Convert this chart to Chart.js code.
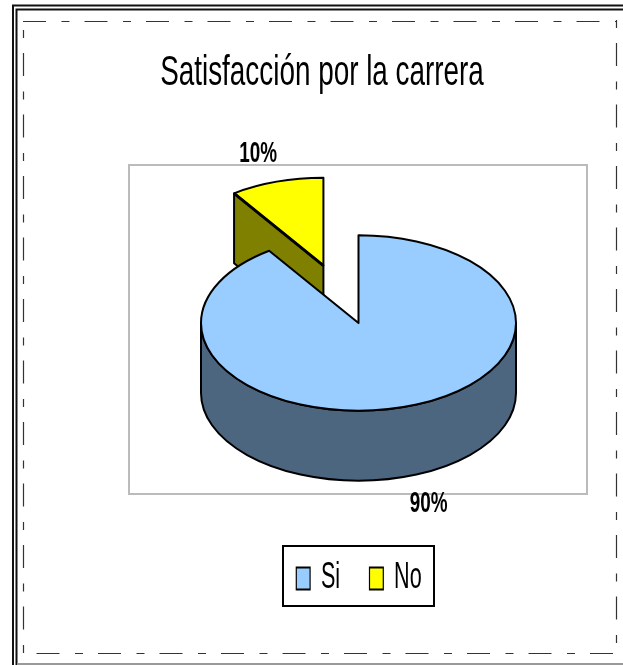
<!DOCTYPE html>
<html><head><meta charset="utf-8">
<style>html,body{margin:0;padding:0;background:#fff}canvas{display:block}</style>
<script src="https://cdn.jsdelivr.net/npm/chart.js@4/dist/chart.umd.min.js"></script>
</head><body><canvas id="c" width="623" height="665"></canvas>
<script>
const categories = ['Si', 'No'];
const values = [90.4, 9.6];
const titleText = 'Satisfacción por la carrera';
const topColors = ['#99CCFF', '#FFFF00'];
const sideColors = ['#4D6680', '#808000'];

const SQUASH = 0.557, DEPTH = 70, CENTER_Y = 323, RADIUS = 157.5;
const EXPLODE = [0, 108];
const EXPLODE_SHIFT_X = [0, -3];
const LABEL_NUDGE_X = [7, -2];
const LABEL_NUDGE_Y = [-2, 1];
const FONT = '"Liberation Sans", Arial, sans-serif';

function squeezeBox(box, ctx, tx, ty, sx) {
  const orig = box.draw;
  box.draw = function (a) {
    const l = box.left, r = box.right;
    ctx.save();
    ctx.translate(tx, ty);
    ctx.scale(sx, 1);
    ctx.translate(-(l + r) / 2, -(box.top + box.bottom) / 2);
    box.left = l - 300; box.right = r + 300;
    orig.call(box, a);
    box.left = l; box.right = r;
    ctx.restore();
  };
}

const pie3d = {
  id: 'pie3d',
  afterInit(chart) {
    squeezeBox(chart.titleBlock, chart.ctx, 322, 74, 0.67);
    squeezeBox(chart.legend, chart.ctx, 359, 559, 0.6);
  },
  beforeDraw(chart) {
    const ctx = chart.ctx;
    ctx.save();
    // outer page frame
    ctx.strokeStyle = '#111'; ctx.lineWidth = 2;
    [[13, 5.5], [16.5, 9.5]].forEach(([x, y]) => {
      ctx.beginPath(); ctx.moveTo(x, 665); ctx.lineTo(x, y); ctx.lineTo(623, y); ctx.stroke();
    });
    ctx.strokeStyle = '#999';
    ctx.beginPath(); ctx.moveTo(17, 664); ctx.lineTo(623, 664); ctx.stroke();
    // dashed chart border
    const dash = (x0, y0, x1, y1, off) => {
      ctx.setLineDash([23, 15.5, 8, 15]);
      ctx.lineDashOffset = off;
      ctx.beginPath(); ctx.moveTo(x0, y0); ctx.lineTo(x1, y1); ctx.stroke();
    };
    ctx.strokeStyle = '#333'; ctx.lineWidth = 1.2;
    dash(23, 21.5, 617, 21.5, 0);
    dash(23.5, 22, 23.5, 654, 30.5);
    dash(23, 653.5, 617, 653.5, 48);
    dash(616.5, 20, 616.5, 654, 38.5);
    ctx.setLineDash([]);
    // plot area
    ctx.strokeStyle = '#BBBBBB'; ctx.lineWidth = 2;
    ctx.strokeRect(129, 165, 458, 329);
    // legend box
    ctx.strokeStyle = '#000'; ctx.lineWidth = 2;
    ctx.fillStyle = '#fff';
    ctx.fillRect(283, 546, 151, 60);
    ctx.strokeRect(283, 546, 151, 60);
    ctx.restore();
  },
  beforeDatasetsDraw(chart) {
    const ctx = chart.ctx, arcs = chart.getDatasetMeta(0).data;
    const geom = i => {
      const a = arcs[i], mid = (a.startAngle + a.endAngle) / 2, e = EXPLODE[i];
      return { a, x: a.x + Math.cos(mid) * e + EXPLODE_SHIFT_X[i], y: a.y + Math.sin(mid) * e, r: a.outerRadius };
    };
    const toFace = g => {
      ctx.translate(0, CENTER_Y - g.a.y * SQUASH);
      ctx.scale(1, SQUASH);
    };
    const paint = (fill, lw) => {
      ctx.fillStyle = fill; ctx.fill();
      ctx.strokeStyle = '#000'; ctx.lineWidth = lw; ctx.lineJoin = 'round'; ctx.stroke();
    };
    const no = geom(1), si = geom(0);
    const d = DEPTH / SQUASH;
    const ex = no.x + Math.cos(no.a.startAngle) * no.r, ey = no.y + Math.sin(no.a.startAngle) * no.r;
    // exploded slice: cut face, then top
    ctx.save();
    toFace(no);
    ctx.beginPath();
    ctx.moveTo(no.x, no.y); ctx.lineTo(ex, ey); ctx.lineTo(ex, ey + d); ctx.lineTo(no.x, no.y + d); ctx.closePath();
    ctx.restore();
    paint(sideColors[1], 2);
    ctx.save();
    toFace(no);
    ctx.beginPath();
    ctx.moveTo(no.x, no.y); ctx.arc(no.x, no.y, no.r, no.a.startAngle, no.a.endAngle); ctx.closePath();
    ctx.restore();
    paint(topColors[1], 2);
    ctx.save();
    toFace(no);
    ctx.beginPath(); ctx.moveTo(no.x, no.y); ctx.lineTo(ex, ey);
    ctx.restore();
    ctx.strokeStyle = '#000'; ctx.lineWidth = 3; ctx.stroke();
    // main slice: wall, then top
    ctx.save();
    toFace(si);
    ctx.beginPath();
    ctx.arc(si.x, si.y, si.r, 0, Math.PI);
    ctx.arc(si.x, si.y + d, si.r, Math.PI, 0, true);
    ctx.closePath();
    ctx.restore();
    paint(sideColors[0], 2);
    ctx.save();
    toFace(si);
    ctx.beginPath();
    ctx.moveTo(si.x, si.y); ctx.arc(si.x, si.y, si.r, si.a.startAngle, si.a.endAngle); ctx.closePath();
    ctx.restore();
    paint(topColors[0], 2);
    // percentage labels
    const total = values.reduce((p, v) => p + v, 0);
    arcs.forEach((a, i) => {
      const mid = (a.startAngle + a.endAngle) / 2, k = a.outerRadius * 1.35 + EXPLODE[i];
      const front = Math.sin(mid) > 0.5;
      ctx.save();
      ctx.translate(a.x + Math.cos(mid) * k + EXPLODE_SHIFT_X[i] + LABEL_NUDGE_X[i],
                    CENTER_Y + Math.sin(mid) * k * SQUASH + (front ? DEPTH : 0) + LABEL_NUDGE_Y[i]);
      ctx.scale(0.63, 1);
      ctx.font = 'bold 30px ' + FONT;
      ctx.fillStyle = '#000'; ctx.textAlign = 'center'; ctx.textBaseline = 'middle';
      ctx.fillText(Math.round(values[i] / total * 100) + '%', 0, 0);
      ctx.restore();
    });
    return false;
  }
};

new Chart(document.getElementById('c'), {
  type: 'pie',
  plugins: [pie3d],
  data: {
    labels: categories,
    datasets: [{ data: values, backgroundColor: topColors, borderColor: '#000', borderWidth: 2 }]
  },
  options: {
    responsive: false,
    animation: false,
    radius: RADIUS,
    layout: { padding: { left: 201, right: 107 } },
    plugins: {
      tooltip: { enabled: false },
      title: { display: true, text: titleText, color: '#000', font: { family: FONT, size: 41.6, weight: 'normal' }, padding: 0 },
      legend: {
        display: true, position: 'bottom',
        labels: { color: '#000', font: { family: FONT, size: 36 }, boxWidth: 23, boxHeight: 22, padding: 49,
          generateLabels: () => categories.map((t, i) => ({ text: t, fillStyle: topColors[i], strokeStyle: '#000', lineWidth: 2, index: i })) }
      }
    }
  }
});
</script></body></html>
